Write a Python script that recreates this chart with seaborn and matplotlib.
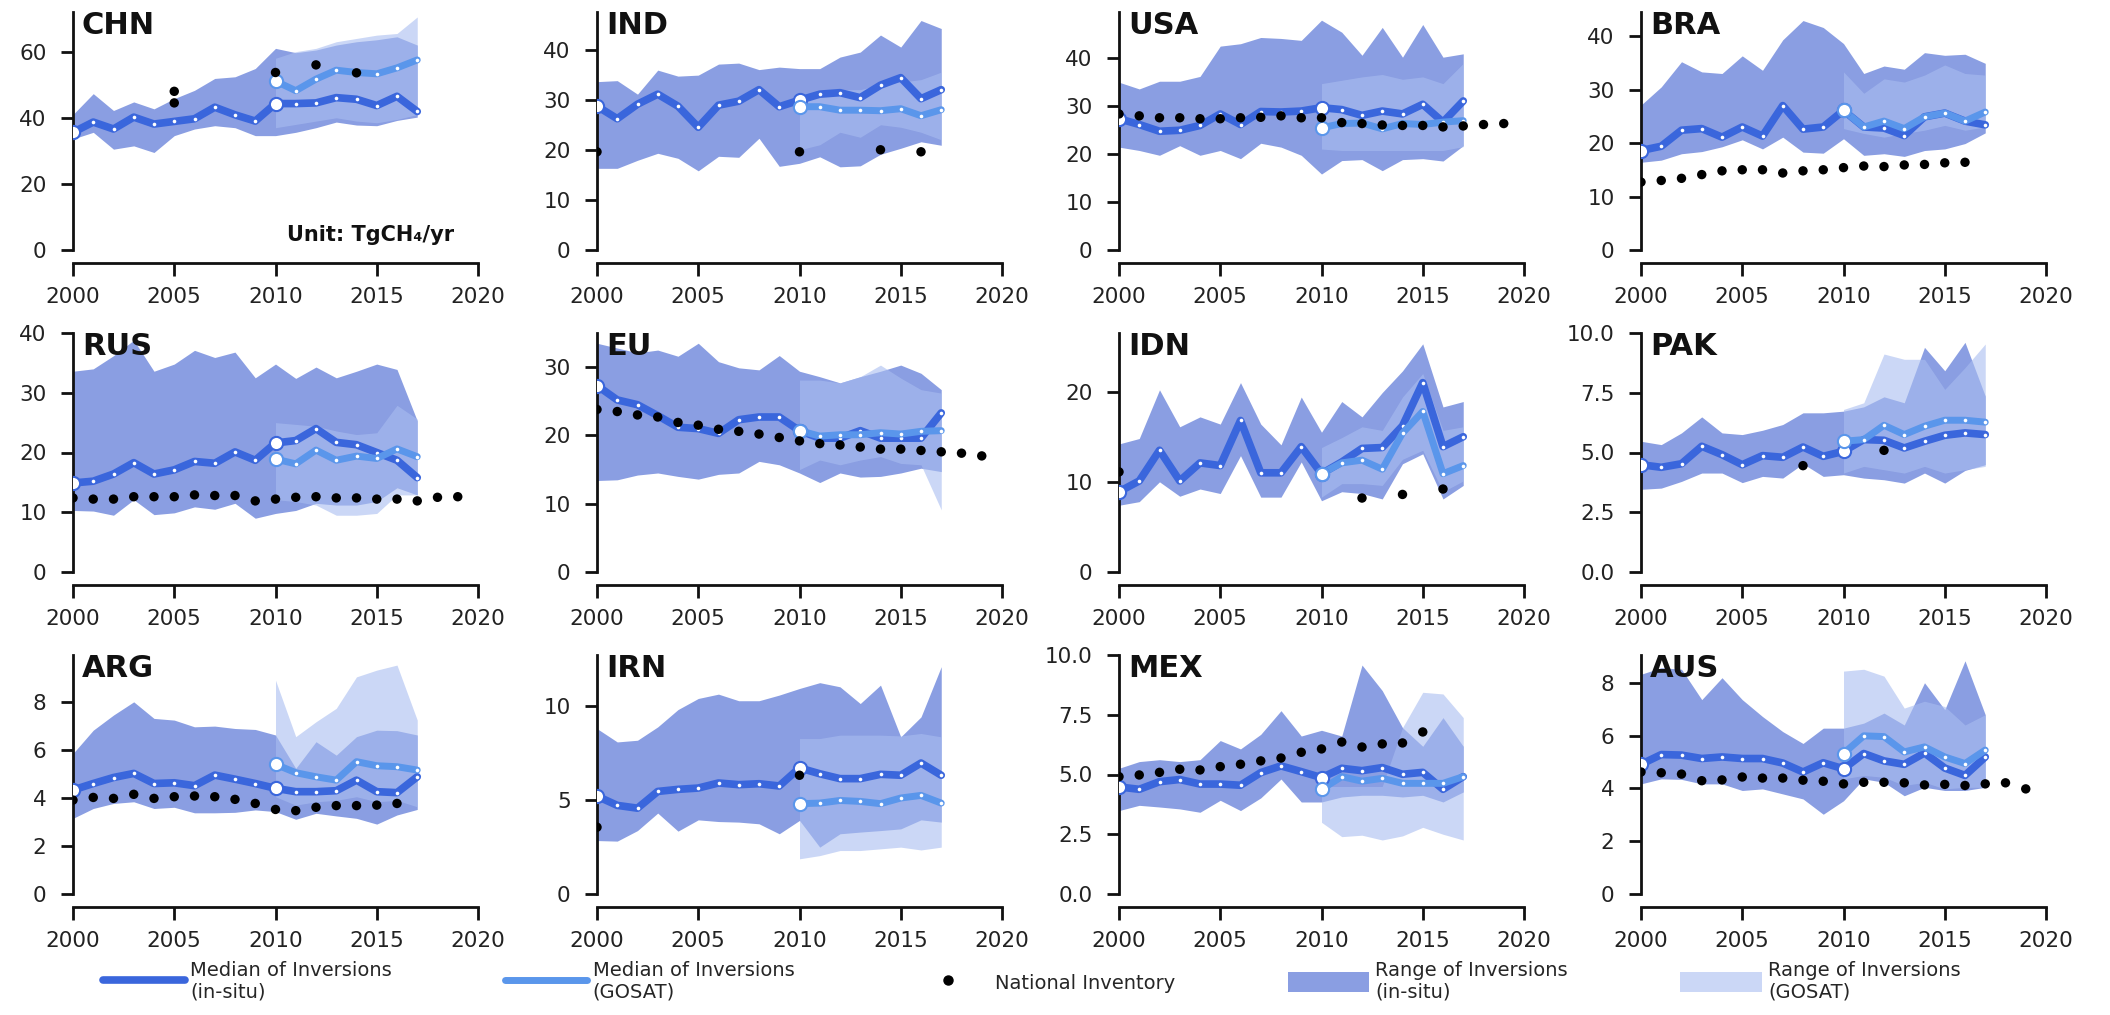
import matplotlib
matplotlib.use("Agg")
import matplotlib.pyplot as plt
from matplotlib.lines import Line2D
from matplotlib.patches import Patch
import pandas as pd
import seaborn as sns

# Methane emissions (TgCH4/yr): inversions vs national inventories

countries = ['CHN', 'IND', 'USA', 'BRA', 'RUS', 'EU', 'IDN', 'PAK', 'ARG', 'IRN', 'MEX', 'AUS']
insitu_years = list(range(2000, 2018))
gosat_years = list(range(2010, 2018))

insitu_median = {
    'CHN': [35.6, 38.7, 36.6, 40.2, 38.1, 38.9, 39.7, 43.2, 40.9, 39.0, 44.3, 44.3, 44.5, 46.1, 45.6, 43.7, 46.5, 41.9],
    'IND': [28.7, 26.2, 29.1, 31.1, 28.7, 24.5, 28.9, 29.7, 32.0, 28.6, 29.9, 31.1, 31.4, 30.4, 32.9, 34.4, 30.2, 32.0],
    'USA': [27.3, 26.1, 24.7, 24.9, 25.9, 28.3, 26.1, 28.8, 28.7, 28.9, 29.6, 29.2, 28.0, 28.9, 28.3, 30.3, 26.6, 31.0],
    'BRA': [18.6, 19.4, 22.4, 22.7, 21.1, 23.0, 21.3, 27.0, 22.6, 23.0, 26.1, 23.0, 22.8, 21.4, 24.9, 25.6, 24.1, 23.4],
    'RUS': [14.9, 15.2, 16.4, 18.3, 16.4, 17.1, 18.5, 18.2, 20.1, 18.7, 21.6, 22.0, 24.0, 21.7, 21.3, 20.0, 18.7, 15.8],
    'EU':  [27.3, 25.2, 24.5, 22.9, 21.2, 21.0, 20.3, 22.3, 22.7, 22.7, 20.7, 19.6, 19.6, 20.7, 19.6, 19.6, 19.6, 23.3],
    'IDN': [8.9, 10.1, 13.5, 10.1, 12.1, 11.8, 16.8, 11.0, 11.0, 13.9, 10.9, 12.2, 13.7, 13.8, 16.2, 21.0, 13.9, 15.0],
    'PAK': [4.49, 4.38, 4.53, 5.26, 4.91, 4.49, 4.87, 4.80, 5.23, 4.84, 5.05, 5.54, 5.51, 5.19, 5.47, 5.72, 5.82, 5.75],
    'ARG': [4.33, 4.60, 4.85, 5.02, 4.60, 4.63, 4.51, 4.95, 4.78, 4.60, 4.40, 4.26, 4.26, 4.30, 4.74, 4.26, 4.22, 4.88],
    'IRN': [5.20, 4.71, 4.56, 5.45, 5.56, 5.63, 5.90, 5.81, 5.86, 5.74, 6.70, 6.39, 6.13, 6.13, 6.36, 6.31, 6.96, 6.31],
    'MEX': [4.48, 4.38, 4.70, 4.79, 4.60, 4.60, 4.55, 5.08, 5.36, 5.12, 4.87, 5.26, 5.16, 5.29, 5.01, 5.09, 4.38, 4.91],
    'AUS': [4.91, 5.28, 5.26, 5.13, 5.19, 5.13, 5.13, 4.96, 4.62, 4.97, 4.74, 5.32, 5.04, 4.91, 5.34, 4.77, 4.49, 5.19],
}
insitu_low = {
    'CHN': [33.6, 35.6, 30.5, 31.5, 29.5, 34.6, 36.6, 37.6, 37.0, 34.6, 34.6, 35.6, 37.0, 38.7, 37.8, 37.6, 39.2, 40.2],
    'IND': [16.3, 16.3, 17.9, 19.3, 18.3, 15.8, 18.7, 18.5, 22.3, 16.7, 17.3, 18.6, 16.6, 16.8, 19.1, 20.3, 21.6, 20.9],
    'USA': [21.4, 20.7, 19.7, 21.7, 19.7, 20.7, 19.0, 22.2, 21.4, 19.7, 15.8, 18.6, 18.8, 16.5, 18.8, 19.0, 18.5, 21.7],
    'BRA': [16.4, 16.8, 18.0, 18.4, 19.3, 20.6, 18.9, 21.1, 18.3, 18.1, 20.8, 17.7, 18.0, 17.5, 18.6, 18.9, 19.9, 21.9],
    'RUS': [10.3, 10.2, 9.5, 12.1, 9.6, 9.9, 10.9, 10.5, 11.5, 9.0, 9.8, 10.3, 11.5, 11.2, 11.2, 11.8, 14.1, 12.9],
    'EU':  [13.4, 13.5, 14.2, 14.5, 14.0, 13.6, 14.3, 14.5, 16.2, 15.7, 14.5, 13.1, 14.5, 13.9, 14.0, 14.5, 15.2, 14.7],
    'IDN': [7.4, 7.8, 10.0, 8.4, 9.2, 8.7, 12.9, 8.3, 8.3, 12.2, 7.9, 8.9, 8.7, 8.1, 12.0, 13.1, 8.1, 9.6],
    'PAK': [3.46, 3.51, 3.79, 4.14, 4.14, 3.74, 4.00, 3.93, 4.53, 4.00, 4.07, 3.93, 3.86, 3.72, 4.14, 3.72, 4.25, 4.49],
    'ARG': [3.15, 3.56, 3.77, 3.84, 3.56, 3.61, 3.38, 3.38, 3.40, 3.50, 3.43, 3.11, 3.36, 3.25, 3.15, 2.91, 3.29, 3.52],
    'IRN': [2.84, 2.81, 3.37, 4.30, 3.34, 3.94, 3.85, 3.82, 3.73, 3.20, 3.91, 2.49, 3.20, 3.29, 3.37, 3.46, 3.94, 3.82],
    'MEX': [3.49, 3.71, 3.64, 3.56, 3.42, 3.92, 3.49, 4.02, 4.81, 3.85, 3.85, 4.06, 4.13, 4.13, 4.06, 4.13, 3.85, 4.27],
    'AUS': [4.17, 4.36, 4.34, 4.17, 4.17, 3.92, 3.98, 3.79, 3.60, 3.02, 3.53, 4.36, 4.23, 3.72, 4.04, 3.92, 3.92, 4.04],
}
insitu_high = {
    'CHN': [41.0, 47.3, 42.2, 44.8, 42.7, 45.8, 48.3, 51.9, 52.4, 54.9, 61.0, 59.7, 60.5, 62.0, 63.0, 63.6, 64.5, 62.0],
    'IND': [33.6, 33.8, 31.1, 35.9, 34.7, 34.9, 37.1, 37.3, 36.0, 36.5, 36.2, 36.2, 38.5, 39.5, 42.9, 40.5, 45.8, 44.2],
    'USA': [34.9, 33.5, 35.1, 35.1, 36.1, 42.4, 42.9, 44.2, 44.0, 43.6, 47.8, 45.3, 40.5, 46.3, 40.1, 46.9, 40.1, 40.8],
    'BRA': [27.1, 30.5, 35.2, 33.3, 33.0, 36.3, 33.6, 39.3, 42.9, 41.6, 38.6, 33.0, 34.4, 33.8, 36.9, 36.4, 36.6, 34.9],
    'RUS': [33.6, 34.0, 36.2, 38.8, 33.6, 34.8, 37.1, 35.9, 36.8, 32.5, 34.8, 32.4, 34.3, 32.5, 33.6, 34.8, 33.9, 25.3],
    'EU':  [33.5, 32.8, 32.1, 32.5, 31.6, 33.5, 30.8, 29.9, 29.6, 31.7, 29.4, 28.6, 27.7, 28.6, 29.4, 30.3, 29.1, 26.7],
    'IDN': [14.2, 14.8, 20.2, 16.1, 17.2, 16.4, 21.0, 16.4, 14.1, 19.4, 15.5, 18.9, 17.2, 19.9, 22.3, 25.3, 18.3, 18.9],
    'PAK': [5.47, 5.33, 5.82, 6.49, 5.82, 5.75, 5.93, 6.17, 6.66, 6.66, 6.73, 6.91, 7.33, 7.08, 9.40, 8.42, 9.61, 7.36],
    'ARG': [5.85, 6.82, 7.45, 8.00, 7.31, 7.24, 6.96, 6.99, 6.89, 6.85, 6.62, 5.23, 6.34, 5.78, 6.55, 6.82, 6.80, 6.62],
    'IRN': [8.79, 8.08, 8.17, 8.88, 9.80, 10.39, 10.62, 10.27, 10.27, 10.57, 10.92, 11.23, 11.01, 10.12, 11.10, 8.35, 9.41, 12.08],
    'MEX': [5.26, 5.54, 5.62, 5.54, 5.62, 6.42, 6.07, 6.68, 7.67, 6.61, 6.85, 6.61, 9.58, 8.51, 6.96, 6.18, 7.38, 6.18],
    'AUS': [8.32, 8.57, 8.51, 7.36, 8.19, 7.36, 6.72, 6.15, 5.70, 6.28, 6.28, 6.47, 6.85, 6.40, 8.00, 6.98, 8.83, 6.79],
}

gosat_median = {
    'CHN': [51.1, 48.2, 51.7, 54.4, 53.7, 53.3, 55.1, 57.5],
    'IND': [28.6, 28.6, 27.9, 27.9, 27.8, 28.2, 26.8, 28.0],
    'USA': [25.4, 26.3, 26.4, 25.2, 26.3, 26.1, 26.6, 26.9],
    'BRA': [26.1, 23.0, 24.1, 22.7, 24.9, 25.6, 24.1, 25.8],
    'RUS': [18.9, 18.1, 20.4, 18.7, 19.4, 19.0, 20.6, 19.3],
    'EU':  [20.7, 19.9, 20.1, 20.1, 20.4, 20.2, 20.6, 20.7],
    'IDN': [10.9, 12.1, 12.4, 11.4, 15.4, 17.8, 10.9, 11.8],
    'PAK': [5.47, 5.54, 6.14, 5.75, 6.10, 6.35, 6.35, 6.27],
    'ARG': [5.40, 5.05, 4.88, 4.74, 5.51, 5.34, 5.30, 5.16],
    'IRN': [4.80, 4.83, 4.97, 4.92, 4.80, 5.10, 5.24, 4.83],
    'MEX': [4.38, 4.91, 4.72, 4.84, 4.63, 4.63, 4.63, 4.91],
    'AUS': [5.32, 5.99, 5.96, 5.38, 5.57, 5.19, 4.94, 5.45],
}
gosat_low = {
    'CHN': [37.0, 38.0, 39.0, 40.0, 39.0, 38.5, 39.5, 41.0],
    'IND': [20.0, 21.0, 23.5, 22.5, 25.0, 24.5, 23.5, 22.0],
    'USA': [21.0, 20.7, 20.7, 20.7, 20.7, 20.7, 20.7, 21.5],
    'BRA': [22.7, 21.8, 21.1, 21.8, 22.4, 23.3, 22.4, 23.0],
    'RUS': [12.1, 11.8, 11.2, 9.5, 9.5, 9.8, 12.9, 12.9],
    'EU':  [15.0, 16.4, 15.7, 16.4, 16.9, 15.9, 15.7, 9.1],
    'IDN': [8.3, 9.8, 9.8, 9.6, 12.5, 13.5, 8.9, 10.1],
    'PAK': [4.14, 4.42, 4.28, 4.14, 4.42, 4.14, 4.28, 4.42],
    'ARG': [4.05, 3.70, 3.84, 3.90, 4.05, 3.84, 3.90, 3.63],
    'IRN': [1.87, 2.04, 2.31, 2.31, 2.40, 2.49, 2.34, 2.49],
    'MEX': [3.00, 2.40, 2.46, 2.26, 2.43, 2.79, 2.50, 2.26],
    'AUS': [4.36, 4.49, 4.42, 4.11, 4.23, 3.98, 4.04, 4.04],
}
gosat_high = {
    'CHN': [58.0, 60.0, 61.0, 63.0, 64.0, 65.0, 65.5, 70.5],
    'IND': [30.0, 31.0, 32.0, 32.0, 33.0, 33.5, 34.0, 35.5],
    'USA': [34.6, 35.3, 36.0, 36.5, 35.5, 36.0, 34.6, 38.8],
    'BRA': [33.3, 29.3, 32.0, 31.4, 32.7, 34.6, 33.0, 32.7],
    'RUS': [25.0, 24.7, 24.4, 23.6, 23.0, 23.3, 27.9, 25.6],
    'EU':  [28.1, 28.1, 27.7, 28.6, 30.3, 28.4, 26.7, 26.2],
    'IDN': [13.8, 14.9, 16.1, 15.7, 19.4, 22.0, 15.7, 16.1],
    'PAK': [6.80, 7.08, 9.12, 8.90, 8.90, 7.64, 8.55, 9.54],
    'ARG': [8.90, 6.55, 7.17, 7.73, 9.04, 9.32, 9.53, 7.24],
    'IRN': [8.26, 8.26, 8.44, 8.44, 8.44, 8.40, 8.53, 8.35],
    'MEX': [4.50, 4.50, 4.50, 4.50, 6.96, 8.44, 8.37, 7.38],
    'AUS': [8.44, 8.51, 8.25, 7.04, 7.30, 7.10, 6.40, 6.79],
}

inventory_years = {
    'CHN': [2005, 2005, 2010, 2012, 2014],
    'IND': [2000, 2010, 2014, 2016],
    'USA': list(range(2000, 2020)),
    'BRA': list(range(2000, 2017)),
    'RUS': list(range(2000, 2020)),
    'EU':  list(range(2000, 2020)),
    'IDN': [2000, 2012, 2014, 2016],
    'PAK': [2008, 2012],
    'ARG': list(range(2000, 2017)),
    'IRN': [2000, 2010],
    'MEX': list(range(2000, 2016)),
    'AUS': list(range(2000, 2020)),
}
inventory_values = {
    'CHN': [48.0, 44.5, 53.7, 56.0, 53.6],
    'IND': [19.6, 19.6, 20.0, 19.6],
    'USA': [28.3, 27.9, 27.5, 27.5, 27.3, 27.3, 27.5, 27.6, 27.9, 27.5,
            27.5, 26.5, 26.3, 26.0, 25.9, 25.9, 25.6, 25.8, 26.1, 26.3],
    'BRA': [12.7, 13.0, 13.4, 14.1, 14.8, 15.0, 15.0, 14.4, 14.8, 15.0,
            15.4, 15.7, 15.6, 15.9, 16.0, 16.3, 16.4],
    'RUS': [12.4, 12.2, 12.2, 12.6, 12.6, 12.6, 12.9, 12.8, 12.8, 11.9,
            12.2, 12.5, 12.6, 12.4, 12.4, 12.2, 12.2, 11.9, 12.5, 12.6],
    'EU':  [23.8, 23.5, 23.0, 22.7, 21.9, 21.5, 20.9, 20.6, 20.2, 19.7,
            19.2, 18.8, 18.6, 18.3, 18.0, 18.0, 17.8, 17.6, 17.4, 17.0],
    'IDN': [11.1, 8.2, 8.6, 9.2],
    'PAK': [4.45, 5.09],
    'ARG': [3.91, 4.02, 3.98, 4.15, 3.98, 4.05, 4.08, 4.05, 3.94, 3.77,
            3.52, 3.47, 3.61, 3.68, 3.68, 3.70, 3.77],
    'IRN': [3.55, 6.31],
    'MEX': [4.91, 4.98, 5.09, 5.22, 5.19, 5.33, 5.43, 5.57, 5.69, 5.93,
            6.07, 6.36, 6.15, 6.28, 6.32, 6.78],
    'AUS': [4.62, 4.59, 4.54, 4.29, 4.32, 4.43, 4.39, 4.39, 4.31, 4.27,
            4.17, 4.23, 4.23, 4.21, 4.13, 4.15, 4.11, 4.17, 4.21, 3.98],
}

y_top = {'CHN': 72, 'IND': 47.5, 'USA': 49.5, 'BRA': 44.5, 'RUS': 40, 'EU': 35,
         'IDN': 26.5, 'PAK': 10, 'ARG': 9.95, 'IRN': 12.7, 'MEX': 10, 'AUS': 9.05}
y_ticks = {'CHN': [0, 20, 40, 60], 'IND': [0, 10, 20, 30, 40], 'USA': [0, 10, 20, 30, 40],
           'BRA': [0, 10, 20, 30, 40], 'RUS': [0, 10, 20, 30, 40], 'EU': [0, 10, 20, 30],
           'IDN': [0, 10, 20], 'PAK': [0.0, 2.5, 5.0, 7.5, 10.0], 'ARG': [0, 2, 4, 6, 8],
           'IRN': [0, 5, 10], 'MEX': [0.0, 2.5, 5.0, 7.5, 10.0], 'AUS': [0, 2, 4, 6, 8]}

# colours
c_insitu = '#3a66dc'
c_gosat = '#5a96eb'
fill_insitu = '#8a9ee2'
fill_gosat = '#a9bdf0'

sns.set_theme(style='ticks')
plt.rcParams['font.family'] = ['DejaVu Sans']

W, H = 2110, 1015
fig = plt.figure(figsize=(W / 100, H / 100), dpi=100)

col_left = [73, 597, 1119, 1641]
row_top = [12, 333, 655]
row_bottom = [250, 572, 894]
ax_w = 405

for i, c in enumerate(countries):
    r, k = divmod(i, 4)
    ax = fig.add_axes([col_left[k] / W, 1 - row_bottom[r] / H,
                       ax_w / W, (row_bottom[r] - row_top[r]) / H])

    ax.fill_between(insitu_years, insitu_low[c], insitu_high[c],
                    color=fill_insitu, lw=0, zorder=1)
    ax.fill_between(gosat_years, gosat_low[c], gosat_high[c],
                    color=fill_gosat, alpha=0.6, lw=0, zorder=2)

    df_in = pd.DataFrame({'year': insitu_years, 'value': insitu_median[c]})
    df_go = pd.DataFrame({'year': gosat_years, 'value': gosat_median[c]})
    sns.lineplot(data=df_in, x='year', y='value', ax=ax, estimator=None, sort=False,
                 color=c_insitu, lw=5.5, marker='o', markersize=2.6,
                 markerfacecolor='white', markeredgewidth=0,
                 solid_joinstyle='round', solid_capstyle='round', zorder=3)
    sns.lineplot(data=df_go, x='year', y='value', ax=ax, estimator=None, sort=False,
                 color=c_gosat, lw=5.0, marker='o', markersize=2.6,
                 markerfacecolor='white', markeredgewidth=0,
                 solid_joinstyle='round', solid_capstyle='round', zorder=4)

    # start-of-period markers
    ax.plot([insitu_years[0], insitu_years[10]],
            [insitu_median[c][0], insitu_median[c][10]],
            ls='none', marker='o', ms=9.5, mfc='white', mec=c_insitu, mew=1.5, zorder=5)
    ax.plot([gosat_years[0]], [gosat_median[c][0]],
            ls='none', marker='o', ms=9.5, mfc='white', mec=c_gosat, mew=1.5, zorder=5)

    sns.scatterplot(x=inventory_years[c], y=inventory_values[c], ax=ax,
                    color='black', s=46, edgecolor='none', zorder=6, legend=False)

    ax.set_xlim(2000, 2020)
    ax.set_ylim(0, y_top[c])
    ax.set_xticks([2000, 2005, 2010, 2015, 2020])
    ax.set_yticks(y_ticks[c])
    ax.set_xlabel('')
    ax.set_ylabel('')
    sns.despine(ax=ax)
    ax.spines['bottom'].set_position(('outward', 9.5))
    for s in ['left', 'bottom']:
        ax.spines[s].set_linewidth(2)
        ax.spines[s].set_color('#111111')
    ax.tick_params(axis='both', length=9, width=2, color='#111111',
                   labelsize=15.5, labelcolor='#222222')
    ax.tick_params(axis='y', pad=10)
    ax.tick_params(axis='x', pad=8)

    ax.text(0.022, 1.005, c, transform=ax.transAxes, ha='left', va='top',
            fontsize=22, fontweight='bold', color='#111111', zorder=10)
    if c == 'CHN':
        ax.text(0.94, 0.02, 'Unit: TgCH\u2084/yr', transform=ax.transAxes,
                ha='right', va='bottom', fontsize=15, fontweight='bold',
                color='#111111', zorder=10)

handles = [
    Line2D([], [], color=c_insitu, lw=5.5),
    Line2D([], [], color=c_gosat, lw=5.0),
    Line2D([], [], ls='none', marker='o', color='black', ms=6.5),
    Patch(facecolor=fill_insitu, edgecolor='none'),
    Patch(facecolor=fill_gosat, alpha=0.6, edgecolor='none'),
]
labels = ['Median of Inversions\n(in-situ)', 'Median of Inversions\n(GOSAT)',
          'National Inventory', 'Range of Inversions\n(in-situ)',
          'Range of Inversions\n(GOSAT)']
fig.legend(handles, labels, loc='lower center', bbox_to_anchor=(0.489, -0.004),
           ncol=5, frameon=False, fontsize=14, handlelength=4.2,
           handleheight=1.2, columnspacing=5.8, handletextpad=0.3,
           labelspacing=0.2)

fig.savefig('out.png', dpi=100)
